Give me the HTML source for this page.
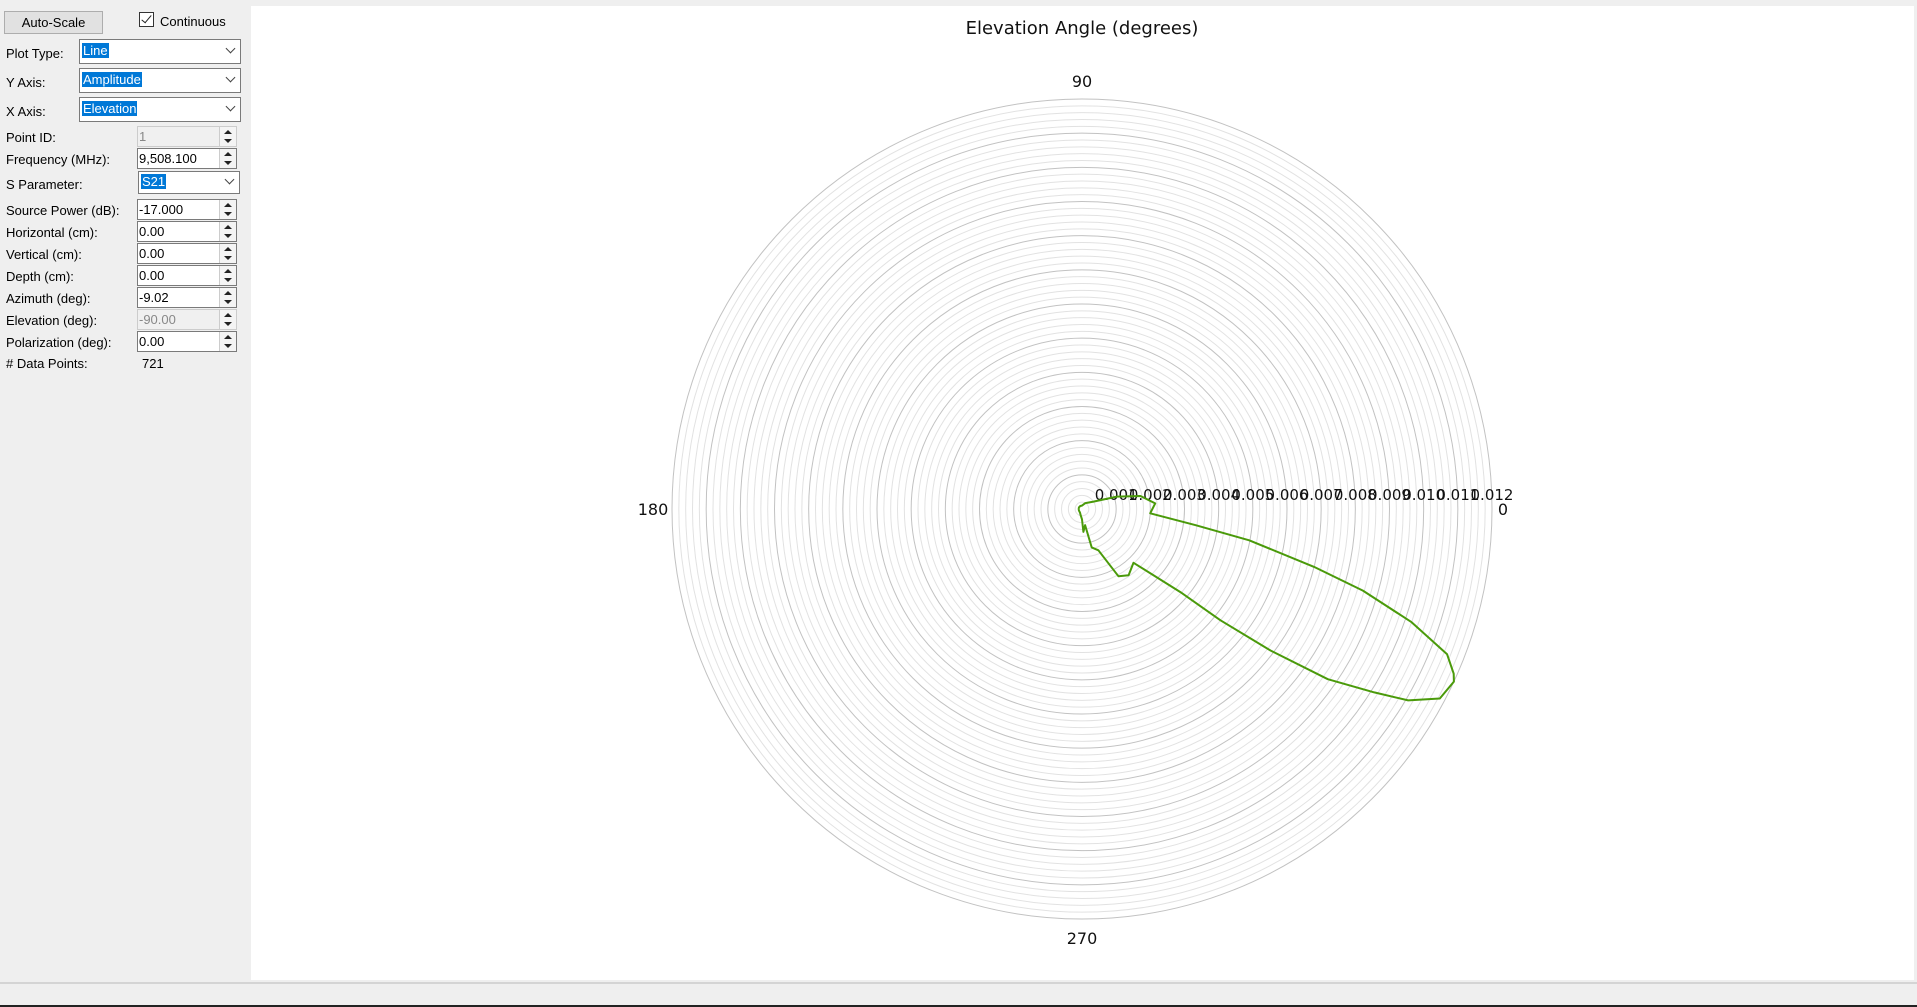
<!DOCTYPE html>
<html><head><meta charset="utf-8"><style>
body{margin:0;width:1917px;height:1007px;background:#efefef;font-family:"Liberation Sans",sans-serif;font-size:13px;color:#000;position:relative;overflow:hidden}
.a{position:absolute}
.lbl{position:absolute;left:6px;font-size:13px}
.combo{position:absolute;background:#fff;border:1px solid #7a7a7a;box-sizing:border-box}
.combo span.sel{position:absolute;left:2px;top:3px;background:#0078d7;color:#fff;padding:0 1px;line-height:15px}
.combo .arr{position:absolute;right:6px;top:5px;width:6px;height:6px;border-right:1px solid #444;border-bottom:1px solid #444;transform:rotate(45deg)}
.spin{position:absolute;left:137px;width:100px;height:21px;background:#fff;border:1px solid #7a7a7a;box-sizing:border-box}
.spin .v{position:absolute;left:1px;top:3px;line-height:14px}
.spin .b{position:absolute;right:0;top:0;width:16px;height:19px;border-left:1px solid #ccc;background:#f4f4f4}
.spin .b:before{content:"";position:absolute;left:4px;top:3px;border:4px solid transparent;border-bottom:4px solid #222;border-top:0}
.spin .b:after{content:"";position:absolute;left:4px;top:12px;border:4px solid transparent;border-top:4px solid #222;border-bottom:0}
.dis{background:#f0f0f0;border-color:#ccc}.dis .v{color:#888}
</style></head><body>
<div class="a" style="left:251px;top:6px;width:1663px;height:974px;background:#fff"></div>
<div class="a" style="left:0;top:982px;width:1917px;height:2px;background:#d4d4d4"></div>
<div class="a" style="left:0;top:1005px;width:1917px;height:2px;background:#222"></div>

<div class="a" style="left:4px;top:11px;width:99px;height:23px;background:#e1e1e1;border:1px solid #adadad;box-sizing:border-box;text-align:center;line-height:21px">Auto-Scale</div>
<div class="a" style="left:139px;top:12px;width:15px;height:15px;border:1px solid #333;box-sizing:border-box;background:#fff"><div style="position:absolute;left:4px;top:0px;width:4px;height:9px;border-right:1.5px solid #222;border-bottom:1.5px solid #222;transform:rotate(40deg)"></div></div>
<div class="a" style="left:160px;top:14px">Continuous</div>

<div class="lbl" style="top:46px">Plot Type:</div>
<div class="combo" style="left:79px;top:39px;width:162px;height:25px"><span class="sel">Line</span><div class="arr"></div></div>
<div class="lbl" style="top:75px">Y Axis:</div>
<div class="combo" style="left:79px;top:68px;width:162px;height:25px"><span class="sel">Amplitude</span><div class="arr"></div></div>
<div class="lbl" style="top:104px">X Axis:</div>
<div class="combo" style="left:79px;top:97px;width:162px;height:25px"><span class="sel">Elevation</span><div class="arr"></div></div>

<div class="lbl" style="top:130px">Point ID:</div>
<div class="spin dis" style="top:126px"><span class="v">1</span><div class="b"></div></div>
<div class="lbl" style="top:152px">Frequency (MHz):</div>
<div class="spin" style="top:148px"><span class="v">9,508.100</span><div class="b"></div></div>
<div class="lbl" style="top:177px">S Parameter:</div>
<div class="combo" style="left:138px;top:171px;width:102px;height:23px"><span class="sel" style="top:2px">S21</span><div class="arr" style="top:4px"></div></div>

<div class="lbl" style="top:203px">Source Power (dB):</div>
<div class="spin" style="top:199px"><span class="v">-17.000</span><div class="b"></div></div>
<div class="lbl" style="top:225px">Horizontal (cm):</div>
<div class="spin" style="top:221px"><span class="v">0.00</span><div class="b"></div></div>
<div class="lbl" style="top:247px">Vertical (cm):</div>
<div class="spin" style="top:243px"><span class="v">0.00</span><div class="b"></div></div>
<div class="lbl" style="top:269px">Depth (cm):</div>
<div class="spin" style="top:265px"><span class="v">0.00</span><div class="b"></div></div>
<div class="lbl" style="top:291px">Azimuth (deg):</div>
<div class="spin" style="top:287px"><span class="v">-9.02</span><div class="b"></div></div>
<div class="lbl" style="top:313px">Elevation (deg):</div>
<div class="spin dis" style="top:309px"><span class="v">-90.00</span><div class="b"></div></div>
<div class="lbl" style="top:335px">Polarization (deg):</div>
<div class="spin" style="top:331px"><span class="v">0.00</span><div class="b"></div></div>
<div class="lbl" style="top:356px"># Data Points:</div>
<div class="a" style="left:142px;top:356px">721</div>

<svg class="a" id="chart" style="left:0;top:0" width="1917" height="1007"></svg>
<script>
const angles=[-180,-150,-120,-100,-90,-86.6,-79,-75.8,-68.3,-61.5,-54.9,-46.3,-40.2,-38.8,-36.9,-34.7,-32.1,-30.4,-27.9,-24.9,-23.9,-21.7,-18.96,-16.2,-14.0,-10.6,-8.1,-3.6,4.4,12.6,19.6,33,60,90,120,150,180];
const amps=[0.0001,0.0001,0.00012,0.0002,0.0003,0.00067,0.00048,0.00116,0.0013,0.00224,0.00237,0.00218,0.00377,0.0052,0.0069,0.00875,0.0101,0.01107,0.01185,0.0120,0.0119,0.0115,0.0102,0.00856,0.0070,0.00498,0.00336,0.0020,0.00215,0.00175,0.00108,0.0004,0.0002,0.0001,0.0001,0.0001,0.0001];
const tickLabels=["0.001","0.002","0.003","0.004","0.005","0.006","0.007","0.008","0.009","0.010","0.011","0.012"];
const angleLabels=["0","90","180","270"];
const maxR=0.012, cx=1082, cy=509, R=410;
const svg=document.getElementById('chart'), NS='http://www.w3.org/2000/svg';
const rs=v=>v/maxR*R;
function mk(t,a){const e=document.createElementNS(NS,t);for(const k in a)e.setAttribute(k,a[k]);svg.appendChild(e);return e;}
for(let i=1;i<=60;i++){
  const c=mk('circle',{cx:cx,cy:cy,r:rs(i*0.0002),fill:'none',stroke:i%5==0?'#c2c2c2':'#e2e2e2','stroke-width':1});
  
  
}
tickLabels.forEach((t,i)=>{
  const e=mk('text',{x:cx+rs((i+1)*0.001),y:500,'text-anchor':'middle','font-size':15,fill:'#111','font-family':'DejaVu Sans, sans-serif'});
  e.textContent=t;
  
  
});
const labelPos={"0":[cx+R+11,cy+6],"90":[cx,cy-R-12],"180":[cx-R-19,cy+6],"270":[cx,cy+R+25]};
angleLabels.forEach(t=>{
  const e=mk('text',{x:labelPos[t][0],y:labelPos[t][1],'text-anchor':'middle','font-size':16,fill:'#111','font-family':'DejaVu Sans, sans-serif'});
  e.textContent=t;
  
  
});
const ti=mk('text',{x:cx,y:34,'text-anchor':'middle','font-size':18,fill:'#111','font-family':'DejaVu Sans, sans-serif'});
ti.textContent='Elevation Angle (degrees)';


let d='';
angles.forEach((g,i)=>{const a=g*Math.PI/180,r=rs(amps[i]);d+=(i?'L':'M')+(cx+Math.cos(a)*r).toFixed(1)+','+(cy-Math.sin(a)*r).toFixed(1);});
const p=mk('path',{d:d,fill:'none',stroke:'#4a9a0a','stroke-width':2,'stroke-linejoin':'round'});


</script>
</body></html>
